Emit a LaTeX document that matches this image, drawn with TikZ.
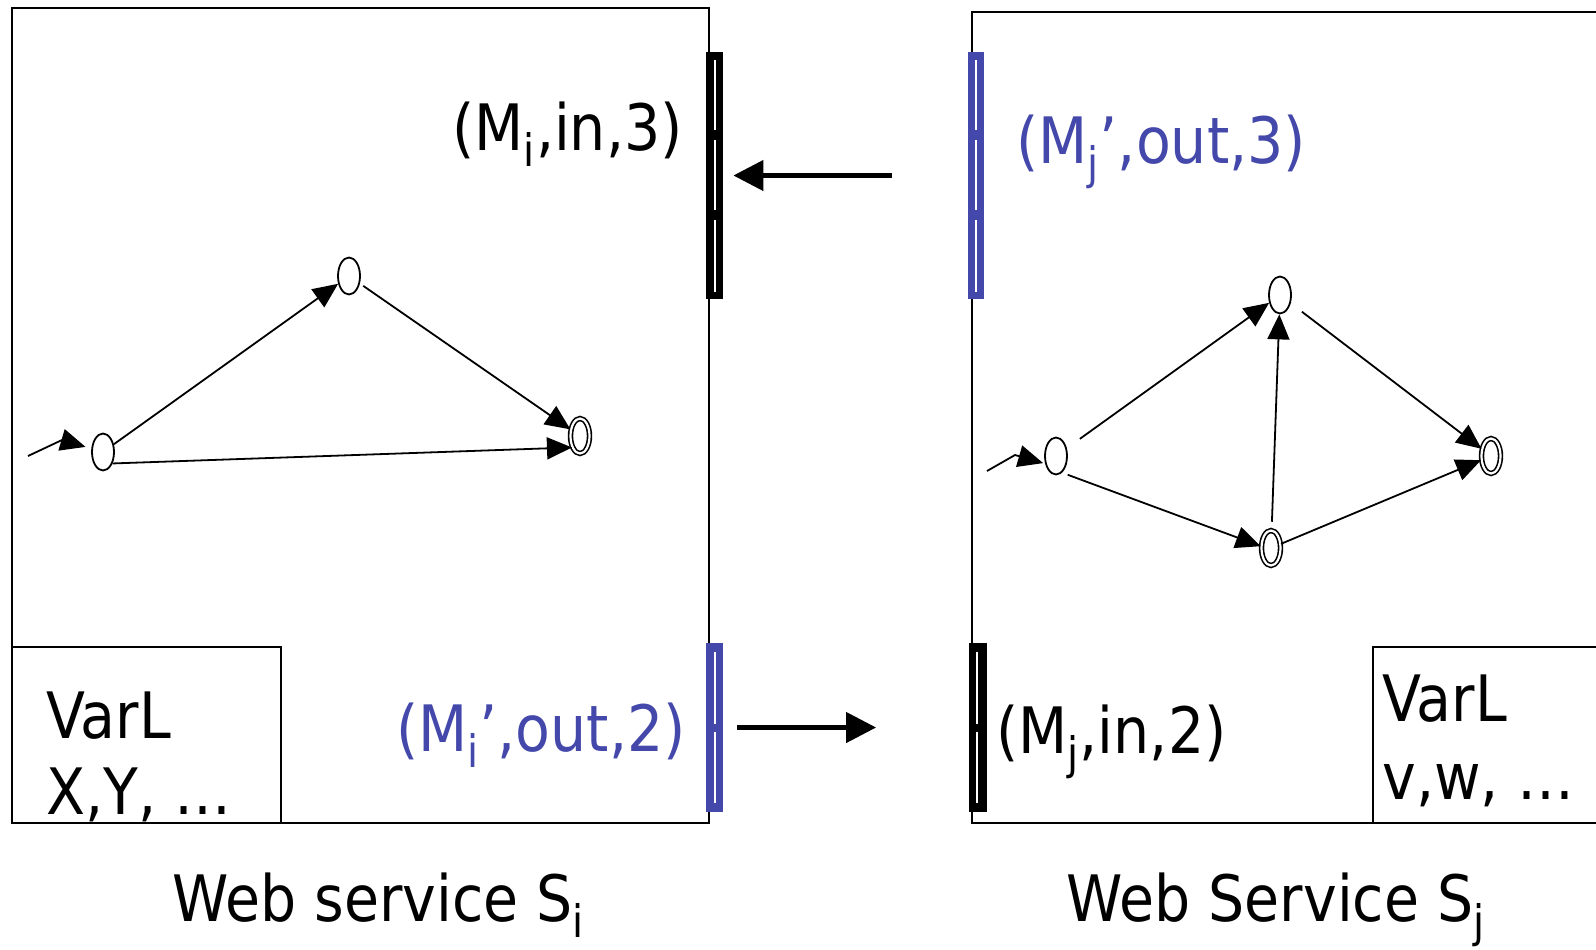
\documentclass[tikz,border=0pt]{standalone}
\usepackage{fontspec}
\setmainfont{DejaVu Sans}[FakeStretch=0.89]
\usetikzlibrary{arrows.meta,shapes.geometric}
\definecolor{queueblue}{RGB}{67,72,170}

\tikzset{
  state/.style={draw,ellipse,line width=0.9pt,inner sep=0pt,minimum width=11pt,minimum height=18.5pt},
  accept/.style={state,double,double distance=1.1pt,line width=0.8pt,minimum width=9.5pt,minimum height=17.5pt},
  trans/.style={line width=0.9pt,-{Triangle[length=12.5pt,width=11pt]}},
  msg/.style={line width=2.2pt,-{Triangle[length=15pt,width=15pt]}},
  queue/.style={rectangle,inner sep=0pt,minimum width=8.5pt,fill=#1},
  lbl/.style={inner sep=0pt,font=\fontsize{32}{38}\selectfont},
}

\begin{document}
\begin{tikzpicture}[x=0.5pt,y=-0.5pt]
    \useasboundingbox (0,0) rectangle (1596,949);

    % services
    \draw[line width=0.8pt] (12,8) rectangle (709,823);
    \draw[line width=0.8pt] (1596,12) -- (972,12) -- (972,823) -- (1596,823);
    \draw[line width=0.8pt] (12,647) rectangle (281,823);
    \draw[line width=0.8pt] (1596,647) -- (1373,647) -- (1373,823);

    % queues
    \node[queue=black,minimum height=123.5pt] (qIin3) at (714.5,175.5) {};
    \node[queue=queueblue,minimum width=8pt,minimum height=123.5pt] (qJout3) at (976,175.5) {};
    \node[queue=queueblue,minimum height=84.5pt] (qIout2) at (714,727.5) {};
    \node[queue=black,minimum width=9pt,minimum height=84.5pt] (qJin2) at (977.5,727.5) {};
    \foreach \x in {714.5,976} {
       \foreach \yt/\yb in {60/130,140/210,220/292}
          \fill[white] (\x-1,\yt) rectangle (\x+1,\yb);
    }
    \foreach \x in {714.5,977.2} {
       \foreach \yt/\yb in {652/724,732/803}
          \fill[white] (\x-1,\yt) rectangle (\x+1,\yb);
    }

    \draw[msg,shorten <=38pt,shorten >=5pt] (qJout3.west) -- (qIin3.east);
    \draw[msg,shorten <=7pt,shorten >=46pt] (qIout2.east) -- (qJin2.west);

    % queue labels
    \node[lbl,anchor=base east] (lIin3) at (683,150) {(M\textsubscript{i},in,3)};
    \node[lbl,anchor=base west,text=queueblue] (lJout3) at (1016,163) {(M\textsubscript{j}’,out,3)};
    \node[lbl,anchor=base east,text=queueblue] (lIout2) at (686,751) {(M\textsubscript{i}’,out,2)};
    \node[lbl,anchor=base west] (lJin2) at (996,753) {(M\textsubscript{j},in,2)};

    % variables
    \node[lbl,anchor=base west] (varI) at (46,738) {VarL};
    \node[lbl,anchor=base west] (valsI) at (46,814) {X,Y, …};
    \node[lbl,anchor=base west] (varJ) at (1382,721) {VarL};
    \node[lbl,anchor=base west] (valsJ) at (1382,799) {v,w, …};

    \node[lbl,anchor=base west] (titleI) at (172,921) {Web service S\textsubscript{i}};
    \node[lbl,anchor=base west] (titleJ) at (1066,921) {Web Service S\textsubscript{j}};

    % automaton of S_i
    \node[state] (p0) at (103,452) {};
    \node[state] (p1) at (349,276) {};
    \node[accept] (p2) at (580,436) {};
    \coordinate (p0in) at (28,456);
    \coordinate (p0kink) at (62,440);

    % automaton of S_j
    \node[state] (q0) at (1056,456) {};
    \node[state] (q1) at (1280,295) {};
    \node[accept] (q2) at (1271,548) {};
    \node[accept] (q3) at (1491,456) {};
    \coordinate (q0in) at (987,471);
    \coordinate (q0kink) at (1015,455);

    \begin{scope}[every path/.style={trans}]
       \draw[shorten >=3pt] (p0in) -- (p0kink) -- (p0);
       \draw (p0) -- (p1);
       \draw[shorten <=2pt] (p1) -- (p2);
       \draw (p0.-50) -- (p2.235);

       \draw[shorten >=1pt] (q0in) -- (q0kink) -- (q0.215);
       \draw[shorten <=8pt] (q0) -- (q1);
       \draw[shorten <=3pt] (q0.-70) -- (q2.170);
       \draw[shorten <=4pt] (q2) -- (q1);
       \draw[shorten <=7pt] (q1) -- (q3);
       \draw (q2) -- (q3);
    \end{scope}
\end{tikzpicture}
\end{document}
